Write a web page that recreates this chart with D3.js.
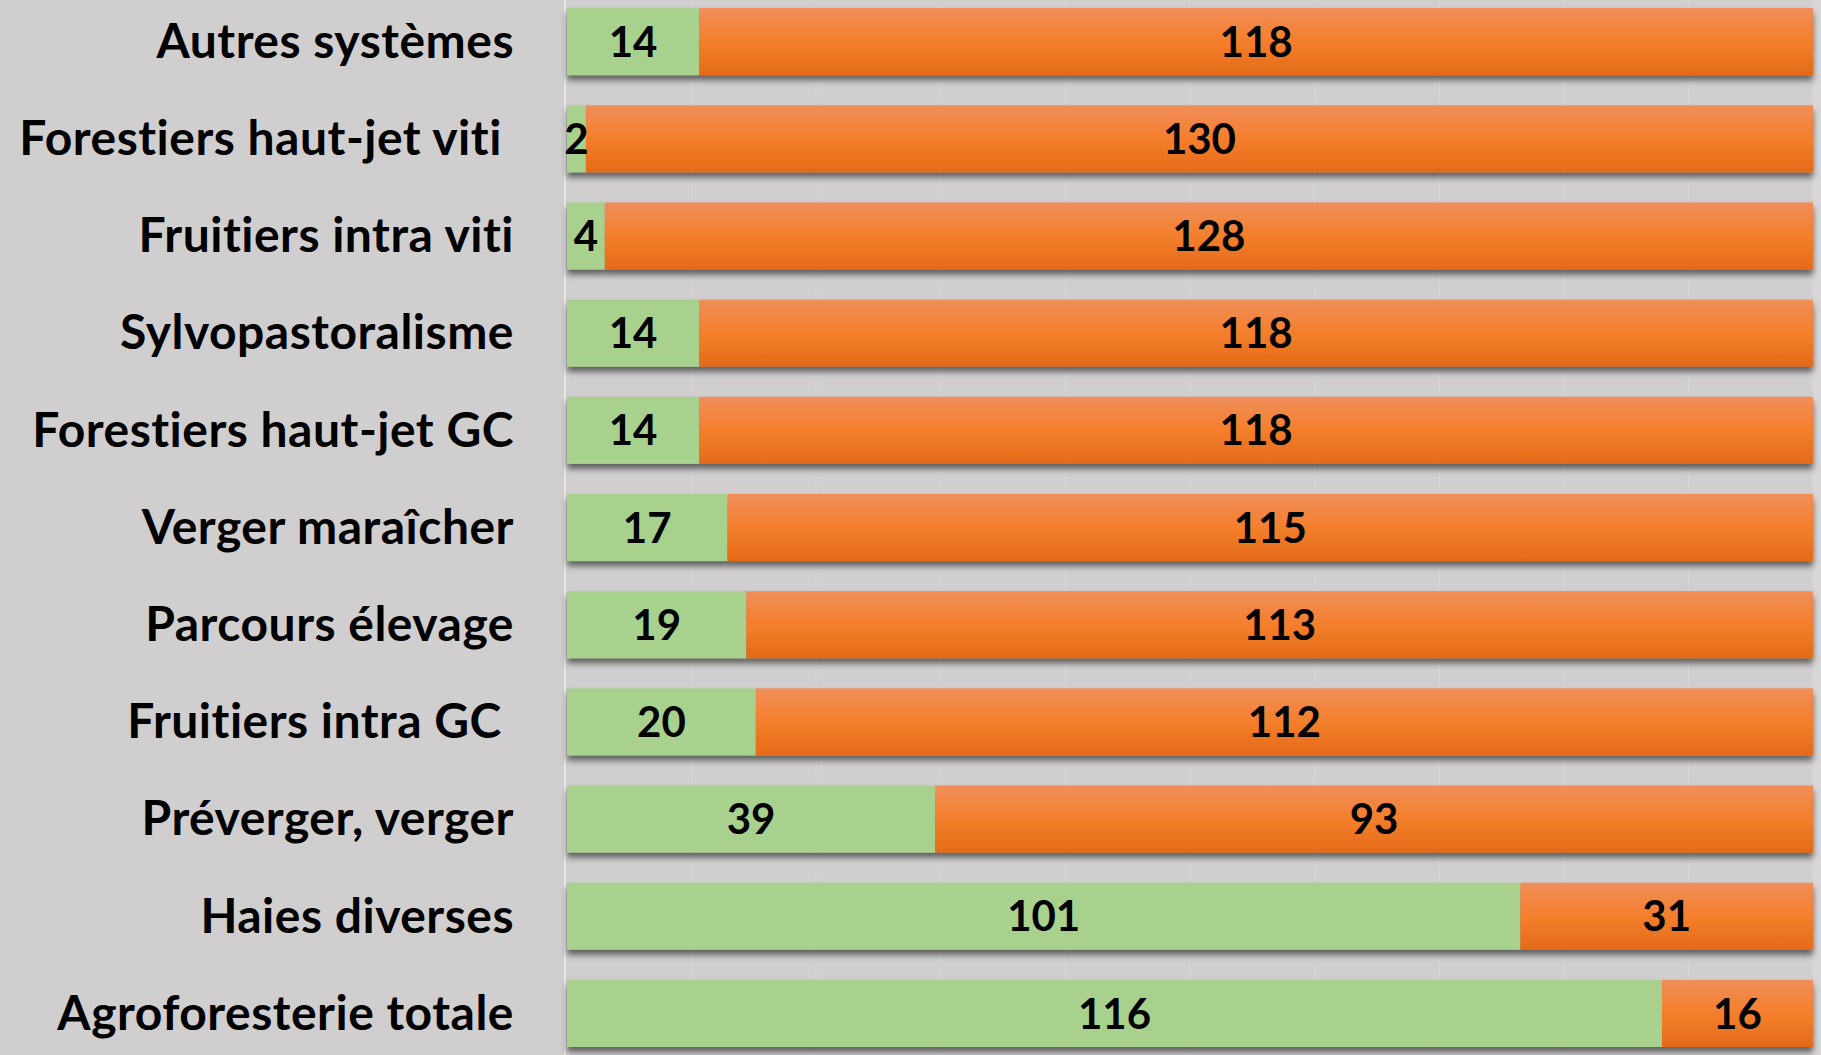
<!DOCTYPE html>
<html>
<head>
<meta charset="utf-8">
<script src="https://cdn.jsdelivr.net/npm/d3@7"></script>
<style>
  html, body { margin: 0; padding: 0; background: #D0CECE; overflow: hidden; }
  text { font-family: Lato, "Open Sans", sans-serif; font-weight: bold; fill: #000; font-variant-ligatures: none; }
</style>
</head>
<body>
<svg id="chart" width="1821" height="1055"></svg>
<script>
// categories from top to bottom
const categories = [
    "Autres systèmes",
    "Forestiers haut-jet viti ",
    "Fruitiers intra viti",
    "Sylvopastoralisme",
    "Forestiers haut-jet GC",
    "Verger maraîcher",
    "Parcours élevage",
    "Fruitiers intra GC ",
    "Préverger, verger",
    "Haies diverses",
    "Agroforesterie totale"
];
const greenValues = [14, 2, 4, 14, 14, 17, 19, 20, 39, 101, 116];
const orangeValues = [118, 130, 128, 118, 118, 115, 113, 112, 93, 31, 16];

const W = 1821, H = 1055;
const svg = d3.select('#chart');

// gradient + shadow
const defs = svg.append('defs');
const grad = defs.append('linearGradient')
    .attr('id', 'orangeGrad')
    .attr('x1', 0).attr('y1', 0).attr('x2', 0).attr('y2', 1);
grad.append('stop').attr('offset', '0%').attr('stop-color', '#F08E5A');
grad.append('stop').attr('offset', '50%').attr('stop-color', '#F47F2C');
grad.append('stop').attr('offset', '100%').attr('stop-color', '#E46A18');

const shadow = defs.append('filter').attr('id', 'shadow')
    .attr('x', '-5%').attr('y', '-20%').attr('width', '110%').attr('height', '150%');
shadow.append('feDropShadow')
    .attr('dx', 0).attr('dy', 5).attr('stdDeviation', 3)
    .attr('flood-color', '#000').attr('flood-opacity', 0.55);

const x0 = 567, x1 = 1813;
const totals = greenValues.map((g, i) => g + orangeValues[i]);
const x = d3.scaleLinear().domain([0, d3.max(totals)]).range([x0, x1]);
const y = d3.scaleBand().domain(categories).range([-7, 1062])
    .paddingInner(0.31).paddingOuter(0.155);

// light strip at the right edge
svg.append('rect').attr('x', x1).attr('y', 0).attr('width', W - x1).attr('height', H)
    .attr('fill', '#D8D6D6');

// faint vertical gridlines every 10%
const gridTicks = d3.range(1, 11).map(k => d3.max(totals) * k / 10);
svg.append('g').selectAll('line')
    .data(gridTicks)
    .enter().append('line')
    .attr('x1', d => x(d)).attr('x2', d => x(d))
    .attr('y1', 0).attr('y2', H)
    .attr('stroke', '#D7D5D5').attr('stroke-width', 1);

// axis line
svg.append('line')
    .attr('x1', x0 - 2).attr('x2', x0 - 2).attr('y1', 0).attr('y2', H)
    .attr('stroke', '#E6E5E5').attr('stroke-width', 2);

const rows = categories.map((c, i) => ({ cat: c, green: greenValues[i], orange: orangeValues[i] }));

const bars = svg.append('g').selectAll('g.row')
    .data(rows)
    .enter().append('g')
    .attr('class', 'row')
    .attr('filter', 'url(#shadow)');

bars.append('rect')
    .attr('x', d => x(0))
    .attr('y', d => y(d.cat))
    .attr('width', d => x(d.green) - x(0))
    .attr('height', y.bandwidth())
    .attr('fill', '#A9D18E');

bars.append('rect')
    .attr('x', d => x(d.green))
    .attr('y', d => y(d.cat))
    .attr('width', d => x(d.green + d.orange) - x(d.green))
    .attr('height', y.bandwidth())
    .attr('fill', 'url(#orangeGrad)');

// value labels
const labels = svg.append('g');
labels.selectAll('text.g')
    .data(rows)
    .enter().append('text')
    .attr('x', d => (x(0) + x(d.green)) / 2)
    .attr('y', d => y(d.cat) + y.bandwidth() / 2)
    .attr('dy', '0.36em')
    .attr('text-anchor', 'middle')
    .style('font-size', '42px')
    .text(d => d.green);

labels.selectAll('text.o')
    .data(rows)
    .enter().append('text')
    .attr('x', d => (x(d.green) + x(d.green + d.orange)) / 2)
    .attr('y', d => y(d.cat) + y.bandwidth() / 2)
    .attr('dy', '0.36em')
    .attr('text-anchor', 'middle')
    .style('font-size', '42px')
    .text(d => d.orange);

// category labels
svg.append('g').selectAll('text')
    .data(categories)
    .enter().append('text')
    .attr('x', 514)
    .attr('y', d => y(d) + y.bandwidth() / 2)
    .attr('dy', '0.34em')
    .attr('text-anchor', 'end')
    .style('font-size', '48px')
    .style('letter-spacing', '0.5px')
    .style('white-space', 'pre')
    .text(d => d);
</script>
</body>
</html>
